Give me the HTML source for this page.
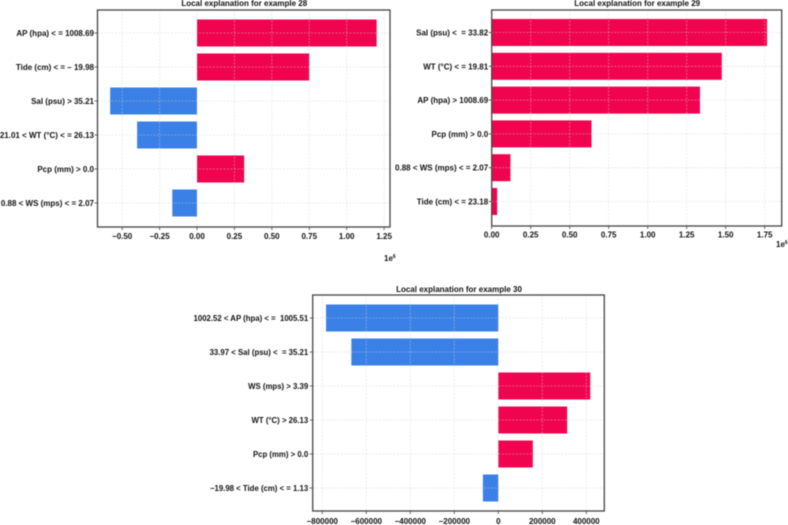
<!DOCTYPE html>
<html>
<head>
<meta charset="utf-8">
<style>
html,body{margin:0;padding:0;background:#fff;}
svg{display:block;filter:blur(0.45px);}
text{font-family:"Liberation Sans",sans-serif;font-weight:bold;fill:#111;white-space:pre;}
</style>
</head>
<body>
<svg id="figure" width="788" height="525" viewBox="0 0 788 525" xmlns="http://www.w3.org/2000/svg"></svg>
<script>
const labels28 = ["AP (hpa) < = 1008.69","Tide (cm) < = – 19.98","Sal (psu) > 35.21","21.01 < WT (°C) < = 26.13","Pcp (mm) > 0.0","0.88 < WS (mps) < = 2.07"];
const values28 = [1200000,750000,-580000,-400000,315000,-165000];
const ticks28 = [-500000,-250000,0,250000,500000,750000,1000000,1250000];
const tickLabels28 = ["−0.50","−0.25","0.00","0.25","0.50","0.75","1.00","1.25"];

const labels29 = ["Sal (psu) <  = 33.82","WT (°C) < = 19.81","AP (hpa) > 1008.69","Pcp (mm) > 0.0","0.88 < WS (mps) < = 2.07","Tide (cm) < = 23.18"];
const values29 = [1765000,1475000,1335000,640000,120000,35000];
const ticks29 = [0,250000,500000,750000,1000000,1250000,1500000,1750000];
const tickLabels29 = ["0.00","0.25","0.50","0.75","1.00","1.25","1.50","1.75"];

const labels30 = ["1002.52 < AP (hpa) < =  1005.51","33.97 < Sal (psu) <  = 35.21","WS (mps) > 3.39","WT (°C) > 26.13","Pcp (mm) > 0.0","−19.98 < Tide (cm) < = 1.13"];
const values30 = [-783000,-668000,418000,313000,157000,-70000];
const ticks30 = [-800000,-600000,-400000,-200000,0,200000,400000];
const tickLabels30 = ["−800000","−600000","−400000","−200000","0","200000","400000"];

const NS = "http://www.w3.org/2000/svg";
const fig = document.getElementById("figure");

function mk(parent, tag, attrs, txt) {
  const el = document.createElementNS(NS, tag);
  for (const k in attrs) el.setAttribute(k, attrs[k]);
  if (txt !== undefined) el.textContent = txt;
  parent.appendChild(el);
  return el;
}

function drawChart(cfg, labels, values, ticks, tickLabels) {
  const g = mk(fig, "g", {});
  
  

  const xScale = v => cfg.zeroX + v * cfg.pxPerUnit;
  const yScale = i => cfg.top + cfg.firstBand + i * cfg.band;

  // bars
  values.forEach((v, i) => {
    const x0 = xScale(0), x1 = xScale(v);
    const bar = mk(g, "rect", {
      x: Math.min(x0, x1),
      y: yScale(i) - cfg.barH / 2,
      width: Math.abs(x1 - x0),
      height: cfg.barH,
      fill: v >= 0 ? "#f0044f" : "#3a80e6"
    });
    
    
  });

  // vertical grid and x ticks
  ticks.forEach((t, i) => {
    const x = xScale(t);
    const grid = mk(g, "line", {x1: x, x2: x, y1: cfg.top, y2: cfg.bottom, stroke: "rgba(210,210,210,.55)", "stroke-width": 0.8, "stroke-dasharray": "2 1.5"});
    
    
    const tick = mk(g, "line", {x1: x, x2: x, y1: cfg.bottom, y2: cfg.bottom + 3, stroke: "#444", "stroke-width": 0.8});
    
    
    const lab = mk(g, "text", {x: x, y: cfg.bottom + cfg.tickDy, "text-anchor": "middle", "font-size": 8}, tickLabels[i]);
    
    
  });

  // horizontal grid and y labels
  labels.forEach((l, i) => {
    const y = yScale(i);
    const grid = mk(g, "line", {x1: cfg.left, x2: cfg.right, y1: y, y2: y, stroke: "rgba(210,210,210,.55)", "stroke-width": 0.8, "stroke-dasharray": "2 1.5"});
    
    
    const tick = mk(g, "line", {x1: cfg.left - 3, x2: cfg.left, y1: y, y2: y, stroke: "#444", "stroke-width": 0.8});
    
    
    const lab = mk(g, "text", {x: cfg.left - cfg.labelGap, y: y + 3, "text-anchor": "end", "font-size": cfg.labelSize}, l);
    
    
  });

  const frame = mk(g, "rect", {x: cfg.left, y: cfg.top, width: cfg.right - cfg.left, height: cfg.bottom - cfg.top, fill: "none", stroke: "#444", "stroke-width": 1.3});
  
  

  const title = mk(g, "text", {x: (cfg.left + cfg.right) / 2 + cfg.titleShift, y: cfg.top - cfg.titleDy, "text-anchor": "middle", "font-size": 8}, "Local explanation for example " + cfg.id);
  
  

  if (cfg.offsetX) {
    const off = mk(g, "text", {x: cfg.offsetX, y: cfg.offsetY, "font-size": 8}, "1e");
    
    
    mk(off, "tspan", {dy: -3, "font-size": 5}, "6");
  }
}

drawChart({id:28,left:97.5,right:390,top:10,bottom:227,zeroX:197,pxPerUnit:0.0001497,firstBand:23,band:34,barH:27,tickDy:12,titleShift:0.5,titleDy:4,labelGap:3.5,labelSize:8,offsetX:384,offsetY:261},
  labels28, values28, ticks28, tickLabels28);
drawChart({id:29,left:491.7,right:781.7,top:10,bottom:226,zeroX:491.7,pxPerUnit:0.000156,firstBand:22.5,band:33.8,barH:27,tickDy:11.5,titleShift:0.5,titleDy:4,labelGap:3.5,labelSize:8,offsetX:776,offsetY:247},
  labels29, values29, ticks29, tickLabels29);
drawChart({id:30,left:312.7,right:604.3,top:295,bottom:511,zeroX:498.3,pxPerUnit:0.00022,firstBand:23,band:34,barH:27,tickDy:13,titleShift:0.5,titleDy:3,labelGap:4.5,labelSize:7.8},
  labels30, values30, ticks30, tickLabels30);
</script>
</body>
</html>
